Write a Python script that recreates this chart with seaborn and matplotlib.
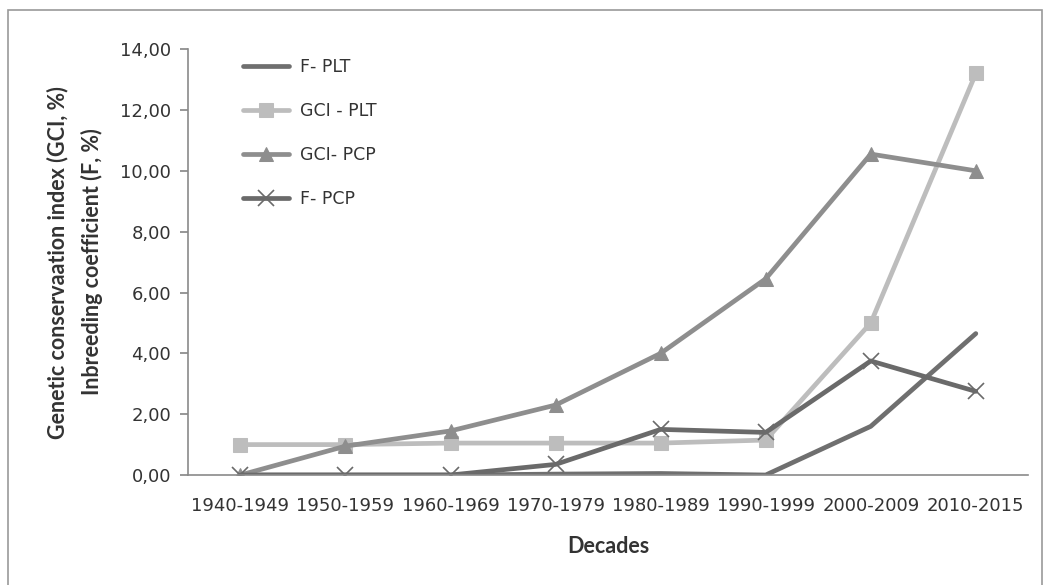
import seaborn as sns
from matplotlib import pyplot as plt
from matplotlib.patches import Rectangle
from matplotlib.ticker import FuncFormatter
import pandas as pd

decades = ["1940-1949", "1950-1959", "1960-1969", "1970-1979",
           "1980-1989", "1990-1999", "2000-2009", "2010-2015"]
f_plt = [0.0, 0.0, 0.0, 0.03, 0.05, 0.0, 1.6, 4.65]
gci_plt = [1.0, 1.0, 1.05, 1.05, 1.05, 1.15, 5.0, 13.2]
gci_pcp = [0.0, 0.95, 1.45, 2.3, 4.0, 6.45, 10.55, 10.0]
f_pcp = [0.0, 0.0, 0.0, 0.35, 1.5, 1.4, 3.75, 2.75]

series = [
    ("F- PLT", f_plt, "#6f6f6f", None),
    ("GCI - PLT", gci_plt, "#bdbdbd", "s"),
    ("GCI- PCP", gci_pcp, "#8e8e8e", "^"),
    ("F- PCP", f_pcp, "#6a6a6a", "x"),
]

sns.set_theme(style="white")
plt.rcParams['font.family'] = ['DejaVu Sans']

fig = plt.figure(figsize=(10.44, 5.85), dpi=100)
ax = fig.add_axes([0.180, 0.188, 0.805, 0.728])

for name, vals, col, mk in series:
    df = pd.DataFrame({"x": range(len(decades)), "y": vals})
    kw = dict(marker=mk, markersize=10, markeredgecolor=col, markerfacecolor=col)
    if mk == "x":
        kw.update(markersize=12, markeredgewidth=1.2)
    if mk is None:
        kw = {}
    sns.lineplot(data=df, x="x", y="y", color=col, linewidth=3.4,
                 label=name, ax=ax, **kw)

ax.set_xlim(-0.5, 7.5)
ax.set_ylim(0, 14)
ax.set_yticks(range(0, 15, 2))
ax.yaxis.set_major_formatter(FuncFormatter(lambda v, p: f"{v:.2f}".replace(".", ",")))
ax.set_xticks(range(len(decades)))
ax.set_xticklabels(decades)

for s in ["top", "right"]:
    ax.spines[s].set_visible(False)
for s in ["left", "bottom"]:
    ax.spines[s].set_color("#8a8a8a")
    ax.spines[s].set_linewidth(1.2)
ax.tick_params(axis="y", left=True, length=6, color="#8a8a8a", labelsize=13,
               labelcolor="#333333", pad=6)
ax.tick_params(axis="x", bottom=False, labelsize=13, labelcolor="#333333", pad=10)

ax.set_xlabel("Decades", fontsize=15.5, fontweight="bold", family="Lato",
              color="#333333", labelpad=15)
ax.set_ylabel("Genetic conservaation index (GCI, %)\nInbreeding coefficient (F, %)",
              fontsize=15.5, fontweight="bold", family="Lato", color="#333333",
              labelpad=12, linespacing=1.7)

leg = ax.legend(loc="upper left", bbox_to_anchor=(0.065, 0.979), frameon=False,
                fontsize=12.5, handlelength=2.7, handletextpad=0.6,
                labelspacing=1.5, borderpad=0, borderaxespad=0,
                labelcolor="#333333")

fig.patches.append(Rectangle((0.008, -0.01), 0.99, 0.993, transform=fig.transFigure,
                             fill=False, edgecolor="#9a9a9a", linewidth=1.2))

fig.savefig("out.png", dpi=100)
